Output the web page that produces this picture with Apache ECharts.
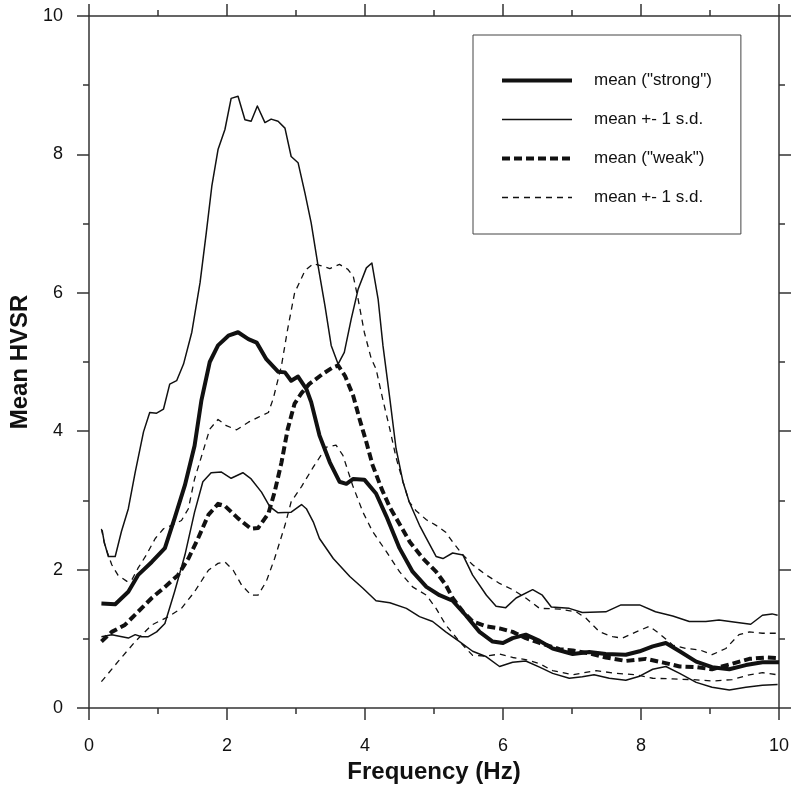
<!DOCTYPE html>
<html>
<head>
<meta charset="utf-8">
<script src="https://cdn.jsdelivr.net/npm/echarts@6/dist/echarts.min.js"></script>
<style>
html,body{margin:0;padding:0;background:#fff;}
#chart{width:792px;height:789px;}
</style>
</head>
<body>
<div id="chart"></div>
<script>
// ---- data (frequency Hz, mean HVSR) ----
const strongMean = [[0.18,1.51],[0.38,1.50],[0.57,1.68],[0.71,1.92],[0.91,2.11],[1.10,2.31],[1.24,2.74],[1.39,3.22],[1.53,3.79],[1.63,4.45],[1.75,5.0],[1.87,5.24],[2.02,5.38],[2.16,5.43],[2.31,5.33],[2.43,5.28],[2.57,5.04],[2.74,4.86],[2.84,4.85],[2.93,4.73],[3.03,4.79],[3.15,4.61],[3.22,4.42],[3.34,3.94],[3.49,3.55],[3.63,3.27],[3.73,3.24],[3.83,3.31],[3.99,3.30],[4.16,3.10],[4.31,2.77],[4.50,2.31],[4.69,1.97],[4.89,1.75],[5.08,1.63],[5.27,1.55],[5.46,1.34],[5.66,1.10],[5.85,0.96],[6.00,0.94],[6.14,1.01],[6.33,1.06],[6.53,0.97],[6.72,0.86],[7.01,0.78],[7.25,0.81],[7.49,0.78],[7.78,0.77],[7.98,0.82],[8.17,0.89],[8.36,0.94],[8.56,0.82],[8.80,0.67],[9.03,0.59],[9.28,0.56],[9.52,0.62],[9.76,0.66],[10.0,0.66]];

const strongUpper = [[0.19,2.57],[0.22,2.40],[0.28,2.19],[0.38,2.19],[0.47,2.55],[0.57,2.88],[0.67,3.41],[0.79,3.99],[0.88,4.27],[0.98,4.26],[1.08,4.32],[1.17,4.68],[1.27,4.73],[1.37,4.97],[1.49,5.43],[1.61,6.15],[1.70,6.87],[1.78,7.54],[1.87,8.07],[1.97,8.36],[2.06,8.81],[2.16,8.84],[2.26,8.50],[2.35,8.48],[2.44,8.70],[2.55,8.46],[2.64,8.51],[2.74,8.48],[2.84,8.38],[2.93,7.97],[3.03,7.88],[3.13,7.44],[3.22,7.01],[3.32,6.39],[3.42,5.81],[3.51,5.24],[3.61,4.97],[3.70,5.14],[3.80,5.62],[3.90,6.05],[4.02,6.36],[4.10,6.43],[4.19,5.91],[4.26,5.24],[4.36,4.47],[4.45,3.75],[4.55,3.27],[4.64,2.98],[4.79,2.64],[4.89,2.45],[5.03,2.19],[5.13,2.16],[5.27,2.24],[5.42,2.21],[5.56,1.92],[5.76,1.63],[5.90,1.47],[6.04,1.45],[6.19,1.59],[6.43,1.71],[6.57,1.63],[6.70,1.46],[6.96,1.44],[7.15,1.38],[7.49,1.39],[7.71,1.49],[7.98,1.49],[8.21,1.39],[8.46,1.33],[8.70,1.25],[8.94,1.25],[9.13,1.27],[9.37,1.24],[9.59,1.21],[9.76,1.34],[9.90,1.36],[9.98,1.34]];

const strongLower = [[0.18,1.03],[0.33,1.06],[0.57,1.01],[0.67,1.06],[0.76,1.03],[0.86,1.03],[0.98,1.10],[1.10,1.22],[1.24,1.68],[1.39,2.21],[1.53,2.83],[1.65,3.27],[1.77,3.40],[1.92,3.41],[2.06,3.32],[2.23,3.40],[2.35,3.31],[2.50,3.12],[2.62,2.91],[2.74,2.82],[2.93,2.83],[3.08,2.94],[3.15,2.88],[3.25,2.69],[3.34,2.45],[3.54,2.16],[3.78,1.90],[3.97,1.73],[4.16,1.55],[4.36,1.52],[4.60,1.44],[4.79,1.32],[4.98,1.25],[5.17,1.10],[5.37,0.96],[5.56,0.82],[5.76,0.74],[5.95,0.60],[6.14,0.66],[6.33,0.68],[6.53,0.59],[6.72,0.50],[6.96,0.43],[7.15,0.45],[7.32,0.48],[7.54,0.43],[7.78,0.40],[7.98,0.46],[8.17,0.56],[8.36,0.60],[8.56,0.50],[8.80,0.37],[9.03,0.30],[9.28,0.26],[9.52,0.30],[9.76,0.33],[9.98,0.34]];

const weakMean = [[0.18,0.96],[0.33,1.10],[0.52,1.20],[0.71,1.39],[0.91,1.59],[1.10,1.75],[1.29,1.92],[1.44,2.16],[1.58,2.45],[1.73,2.79],[1.87,2.95],[1.97,2.92],[2.16,2.74],[2.35,2.59],[2.45,2.60],[2.60,2.81],[2.69,3.12],[2.79,3.55],[2.88,4.03],[2.98,4.40],[3.08,4.55],[3.19,4.68],[3.39,4.83],[3.53,4.92],[3.61,4.95],[3.71,4.80],[3.83,4.51],[3.92,4.18],[4.02,3.84],[4.11,3.51],[4.24,3.17],[4.36,2.90],[4.50,2.66],[4.65,2.40],[4.84,2.16],[5.03,1.97],[5.17,1.78],[5.27,1.59],[5.42,1.39],[5.56,1.25],[5.76,1.18],[5.95,1.15],[6.14,1.10],[6.33,1.01],[6.53,0.94],[6.82,0.85],[7.01,0.83],[7.25,0.79],[7.49,0.73],[7.78,0.68],[8.07,0.71],[8.31,0.66],[8.56,0.60],[8.80,0.59],[9.03,0.56],[9.32,0.64],[9.57,0.71],[9.81,0.73],[10.0,0.72]];

const weakUpper = [[0.18,2.59],[0.23,2.35],[0.33,2.07],[0.42,1.92],[0.55,1.83],[0.62,1.85],[0.71,2.02],[0.83,2.21],[0.96,2.45],[1.08,2.59],[1.20,2.64],[1.34,2.71],[1.44,2.88],[1.53,3.31],[1.65,3.70],[1.75,4.03],[1.87,4.17],[1.99,4.08],[2.14,4.02],[2.31,4.13],[2.45,4.20],[2.60,4.27],[2.67,4.47],[2.79,4.95],[2.88,5.48],[2.98,6.00],[3.13,6.32],[3.25,6.42],[3.37,6.39],[3.49,6.35],[3.63,6.41],[3.75,6.34],[3.83,6.24],[3.90,5.91],[3.99,5.43],[4.09,5.05],[4.16,4.90],[4.26,4.45],[4.36,4.03],[4.45,3.62],[4.55,3.27],[4.64,2.98],[4.74,2.85],[4.89,2.72],[5.03,2.64],[5.17,2.54],[5.27,2.40],[5.42,2.21],[5.56,2.07],[5.76,1.92],[5.95,1.80],[6.14,1.71],[6.33,1.59],[6.53,1.44],[6.82,1.43],[7.06,1.39],[7.20,1.30],[7.40,1.10],[7.59,1.03],[7.73,1.01],[7.93,1.10],[8.12,1.18],[8.26,1.08],[8.46,0.91],[8.65,0.86],[8.85,0.84],[9.03,0.77],[9.23,0.86],[9.42,1.06],[9.57,1.10],[9.76,1.08],[9.98,1.08]];

const weakLower = [[0.18,0.38],[0.42,0.67],[0.67,0.96],[0.91,1.20],[1.15,1.32],[1.34,1.44],[1.53,1.68],[1.73,1.99],[1.87,2.09],[1.97,2.11],[2.09,1.99],[2.21,1.78],[2.35,1.63],[2.45,1.63],[2.57,1.83],[2.69,2.16],[2.84,2.64],[2.93,2.98],[3.08,3.20],[3.25,3.48],[3.44,3.77],[3.58,3.80],[3.68,3.65],[3.82,3.22],[3.97,2.83],[4.11,2.55],[4.31,2.26],[4.50,1.97],[4.69,1.75],[4.89,1.63],[5.03,1.44],[5.17,1.20],[5.37,0.96],[5.56,0.76],[5.76,0.75],[5.95,0.78],[6.14,0.73],[6.33,0.70],[6.53,0.64],[6.72,0.54],[7.01,0.48],[7.35,0.54],[7.64,0.50],[7.93,0.48],[8.17,0.43],[8.46,0.42],[8.75,0.41],[9.03,0.39],[9.32,0.41],[9.57,0.48],[9.76,0.51],[9.98,0.48]];

const legendNames = ['strong', 'sdStrong', 'weak', 'sdWeak'];
const legendLabels = {
  strong: 'mean ("strong")',
  sdStrong: 'mean +- 1 s.d.',
  weak: 'mean ("weak")',
  sdWeak: 'mean +- 1 s.d.'
};
const xTitle = 'Frequency (Hz)';
const yTitle = 'Mean HVSR';

// ---- chart ----
const FONT = '"Liberation Sans", Arial, Helvetica, sans-serif';
const INK = '#111';
const AXIS = '#333';

// line styles per legend group
const styles = {
  strong:   { width: 4,   type: 'solid' },
  sdStrong: { width: 1.5, type: 'solid' },
  weak:     { width: 4,   type: [8, 4] },
  sdWeak:   { width: 1.3, type: [6, 5] }
};

function axisBase(extra) {
  return Object.assign({
    type: 'value', min: 0, max: 10, interval: 2,
    axisLine: { show: true, onZero: false, lineStyle: { color: AXIS, width: 1.5 } },
    axisTick: { show: true, inside: false, length: 12, lineStyle: { color: AXIS, width: 1.5 } },
    minorTick: { show: true, splitNumber: 2, length: 6, lineStyle: { color: AXIS, width: 1.5 } },
    splitLine: { show: false },
    minorSplitLine: { show: false },
    axisLabel: { show: false }
  }, extra);
}

const labelStyle = { show: true, fontSize: 18, color: INK, fontFamily: FONT, margin: 29 };
const nameStyle = { fontSize: 24, fontWeight: 'bold', color: INK, fontFamily: FONT };

function line(name, data) {
  const s = styles[name];
  return {
    type: 'line', name: name, data: data,
    xAxisIndex: 0, yAxisIndex: 0,
    symbol: 'none', smooth: false, silent: true,
    itemStyle: { color: INK },
    lineStyle: { color: INK, width: s.width, type: s.type, cap: 'butt', join: 'round' },
    z: s.width > 2 ? 3 : 2
  };
}

const chart = echarts.init(document.getElementById('chart'), null, { renderer: 'canvas' });
chart.setOption({
  animation: false,
  backgroundColor: '#fff',
  grid: { left: 89, top: 16, width: 691, height: 694, containLabel: false },
  xAxis: [
    axisBase({ position: 'bottom', axisLabel: labelStyle,
      name: xTitle, nameLocation: 'middle', nameGap: 52, nameTextStyle: nameStyle }),
    axisBase({ position: 'top' })
  ],
  yAxis: [
    axisBase({ position: 'left', axisLabel: Object.assign({}, labelStyle, { margin: 26 }),
      name: yTitle, nameLocation: 'middle', nameGap: 53, nameTextStyle: nameStyle }),
    axisBase({ position: 'right' })
  ],
  legend: {
    data: legendNames.map(function (n) {
      return { name: n, itemStyle: { opacity: 0 },
        lineStyle: { color: INK, width: styles[n].width, type: styles[n].type, opacity: 1 } };
    }),
    orient: 'vertical',
    left: 473, top: 35,
    padding: [37, 29, 28, 27],
    borderColor: '#444', borderWidth: 1,
    backgroundColor: '#fff',
    itemWidth: 70, itemHeight: 16, itemGap: 22,
    selectedMode: false,
    formatter: function (n) { return legendLabels[n]; },
    textStyle: { fontSize: 17, color: INK, fontFamily: FONT, padding: [0, 0, 0, 17] }
  },
  series: [
    line('strong', strongMean),
    line('sdStrong', strongUpper),
    line('sdStrong', strongLower),
    line('weak', weakMean),
    line('sdWeak', weakUpper),
    line('sdWeak', weakLower)
  ]
});
</script>
</body>
</html>
